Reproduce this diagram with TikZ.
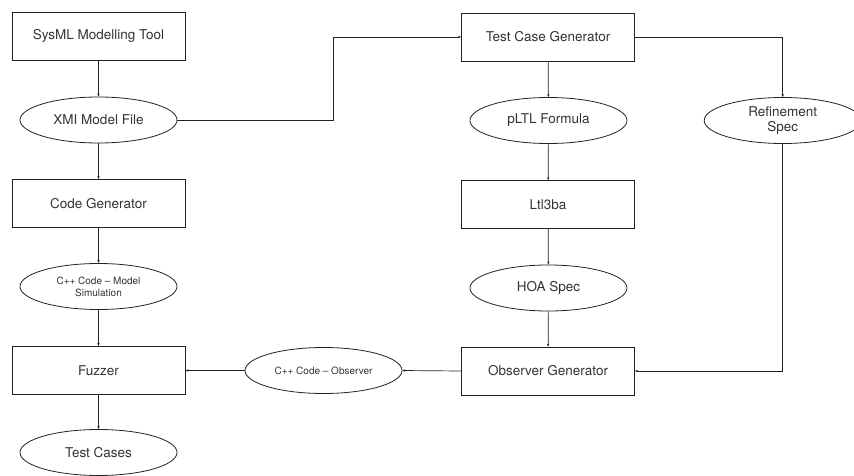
\documentclass[tikz,border=0pt]{standalone}
\usepackage{fontspec}
\setmainfont{TeX Gyre Heros}
\usetikzlibrary{arrows.meta,shapes.geometric}
\definecolor{ink}{HTML}{333333}
\definecolor{edge}{HTML}{222222}
\tikzset{
  box/.style={draw=edge, line width=0.8pt, rectangle, minimum width=173pt, minimum height=48pt, inner sep=0pt, text=ink, font=\fontsize{13.5}{15}\selectfont},
  blob/.style={draw=edge, line width=0.8pt, ellipse, minimum width=157pt, minimum height=46pt, inner sep=0pt, text=ink, font=\fontsize{13.5}{15}\selectfont, align=center},
  smallblob/.style={blob, font=\fontsize{10}{12}\selectfont},
  flow/.style={draw=edge, line width=0.7pt, -{Stealth[length=3pt,width=2.4pt]}}
}
\begin{document}
\begin{tikzpicture}[x=1pt,y=-1pt]
\useasboundingbox (0,0) rectangle (854,476);
\fill[white] (0,0) rectangle (854,476);
% left column
\node[box]  (sysml) at (98.5,36)   {SysML Modelling Tool};
\node[blob] (xmi)   at (98.5,120)  {XMI Model File};
\node[box]  (codegen) at (98.5,203.5) {Code Generator};
\node[smallblob] (cppmodel) at (98.5,286.5) {C++ Code -- Model\\Simulation};
\node[box]  (fuzzer) at (98.5,370.5) {Fuzzer};
\node[blob] (tests) at (98.5,452.5) {Test Cases};
% middle
\node[smallblob] (cppobs) at (323.5,370.5) {C++ Code -- Observer};
% right column
\node[box]  (tcg)   at (548,37)    {Test Case Generator};
\node[blob] (pltl)  at (548.5,120.5) {pLTL Formula};
\node[box]  (ltl)   at (548,204.5) {Ltl3ba};
\node[blob] (hoa)   at (548.5,288) {HOA Spec};
\node[box]  (obsgen) at (548,371)  {Observer Generator};
\node[blob] (refine) at (782.7,120.5) {Refinement\\Spec};
% vertical flows
\draw[flow] (sysml) -- (xmi);
\draw[flow] (xmi) -- (codegen);
\draw[flow] (codegen) -- (cppmodel);
\draw[flow] (cppmodel) -- (fuzzer);
\draw[flow] (fuzzer) -- (tests);
\draw[flow] (tcg) -- (pltl);
\draw[flow] (pltl) -- (ltl);
\draw[flow] (ltl) -- (hoa);
\draw[flow] (hoa) -- (obsgen);
% cross links
\draw[flow] (xmi.east) -- (333,120) -- (333,37) -- (tcg.west);
\draw[flow] (tcg.east) -| (refine.north);
\draw[flow] (refine.south) |- (obsgen.east);
\draw[flow] (obsgen.west) -- (cppobs.east);
\draw[flow] (cppobs.west) -- (fuzzer.east |- cppobs.west);
\end{tikzpicture}
\end{document}
